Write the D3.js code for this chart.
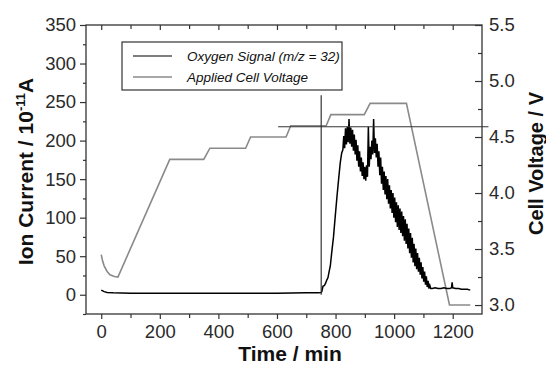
<!DOCTYPE html>
<html><head><meta charset="utf-8">
<script src="https://cdn.jsdelivr.net/npm/d3@7"></script>
<style>
html,body{margin:0;padding:0;background:#fff;}
svg{display:block;font-family:"Liberation Sans",Arial,Helvetica,sans-serif;}
</style></head>
<body><svg id="c" width="546" height="366"></svg>
<script>
// ---- data ----
const xTicks = [0, 200, 400, 600, 800, 1000, 1200];
const leftTicks = [0, 50, 100, 150, 200, 250, 300, 350];
const rightTicks = [3.0, 3.5, 4.0, 4.5, 5.0, 5.5];
const legendLabels = ["Oxygen Signal (m/z = 32)", "Applied Cell Voltage"];

// applied cell voltage (time/min, V)
const voltTime = [0, 5, 10, 20, 30, 45, 57, 234, 350, 371, 493, 510, 631, 647, 768, 784, 898, 918, 1042, 1189, 1260];
const voltValue = [3.45, 3.39, 3.35, 3.30, 3.27, 3.255, 3.25, 4.30, 4.30, 4.40, 4.40, 4.50, 4.50, 4.60, 4.60, 4.70, 4.70, 4.80, 4.80, 3.00, 3.00];

// oxygen signal: baseline + rise
const oxyTimeA = [0, 10, 20, 40, 100, 200, 300, 400, 500, 600, 700, 740, 751, 753, 757, 762, 766, 770, 774, 778, 782, 787, 793, 799, 805, 811, 816, 821];
const oxyValueA = [6, 4, 3, 2.5, 2, 2, 2, 2, 2, 2, 2.5, 2.5, 3, 4, 11, 12, 15, 19, 22, 30, 37, 55, 75, 102, 128, 152, 171, 184];
// noisy part, every 3 min from 825 to 1125
const oxyNoiseStart = 825, oxyNoiseStep = 3;
const oxyNoise = [188, 206, 190, 216, 195, 218, 198, 228, 196, 217, 192, 214, 187, 208, 182, 201, 174, 194, 166, 186,
  160, 178, 154, 172, 150, 166, 148, 168, 153, 218, 166, 192, 176, 200, 182, 228, 184, 203, 178, 196,
  166, 186, 155, 178, 144, 166, 136, 160, 130, 154, 124, 150, 118, 142, 112, 136, 106, 132, 100, 126,
  94, 120, 88, 116, 84, 112, 80, 108, 76, 102, 70, 98, 66, 92, 60, 86, 54, 80, 48, 74,
  42, 66, 37, 60, 33, 54, 30, 48, 26, 42, 21, 36, 17, 30, 13, 24, 10, 18, 8, 12, 8];
const oxyTimeB = [1130, 1140, 1150, 1160, 1170, 1180, 1190, 1196, 1198, 1200, 1210, 1220, 1230, 1240, 1250, 1260];
const oxyValueB = [8, 9, 8, 8, 9, 8, 8, 9, 16, 9, 8, 8, 7, 7, 7, 6];

// marker lines (cursor)
const hLine = {t0: 604, t1: 1322, ion: 218};
const vLine = {t: 751, ion0: 0, ion1: 259};

// ---- build ----
const svg = d3.select("#c");
const L = 86, R = 482, T = 25, B = 314;
const x = d3.scaleLinear().domain([-52, 1300]).range([L, R]);
const yL = d3.scaleLinear().domain([-25, 350]).range([B, T]);
const yR = d3.scaleLinear().domain([2.92, 5.5]).range([B, T]);

const axisCol = "#333";

// frame
svg.append("rect").attr("x", L).attr("y", T).attr("width", R - L).attr("height", B - T)
  .attr("fill", "none").attr("stroke", axisCol).attr("stroke-width", 1.3);

// bottom axis
svg.append("g").attr("transform", `translate(0,${B})`)
  .call(d3.axisBottom(x).tickValues(xTicks).tickSize(5).tickPadding(6).tickFormat(d3.format("d")));
svg.append("g").attr("transform", `translate(0,${B})`)
  .call(d3.axisBottom(x).tickValues(d3.range(100, 1300, 200)).tickSize(4).tickFormat(""));
// top axis inward ticks
svg.append("g").attr("transform", `translate(0,${T})`)
  .call(d3.axisBottom(x).tickValues(xTicks).tickSize(5).tickFormat(""));
svg.append("g").attr("transform", `translate(0,${T})`)
  .call(d3.axisBottom(x).tickValues(d3.range(100, 1300, 200)).tickSize(4).tickFormat(""));
// left axis
svg.append("g").attr("transform", `translate(${L},0)`)
  .call(d3.axisLeft(yL).tickValues(leftTicks).tickSize(6).tickPadding(4).tickFormat(d3.format("d")));
svg.append("g").attr("transform", `translate(${L},0)`)
  .call(d3.axisLeft(yL).tickValues(d3.range(-25, 350, 50)).tickSize(3).tickFormat(""));
// right axis inward ticks, outside labels
svg.append("g").attr("transform", `translate(${R},0)`)
  .call(d3.axisLeft(yR).tickValues(rightTicks).tickSize(7).tickFormat(""));
svg.append("g").attr("transform", `translate(${R},0)`)
  .call(d3.axisLeft(yR).tickValues(d3.range(3.25, 5.5, 0.5)).tickSize(4).tickFormat(""));
svg.append("g").attr("transform", `translate(${R},0)`)
  .call(d3.axisRight(yR).tickValues(rightTicks).tickSize(0).tickPadding(7).tickFormat(d3.format(".1f")));

svg.selectAll(".domain").remove();
svg.selectAll(".tick line").attr("stroke", axisCol).attr("stroke-width", 1.2);
svg.selectAll(".tick text").attr("font-size", 18.5).attr("fill", "#2a2a2a")
  .attr("font-family", "'Liberation Sans',Arial,sans-serif");

// voltage line
const voltData = voltTime.map((t, i) => [t, voltValue[i]]);
svg.append("path").datum(voltData)
  .attr("d", d3.line().x(d => x(d[0])).y(d => yR(d[1])))
  .attr("fill", "none").attr("stroke", "#8a8a8a").attr("stroke-width", 1.6);

// oxygen signal
const oxyData = oxyTimeA.map((t, i) => [t, oxyValueA[i]])
  .concat(oxyNoise.map((v, i) => [oxyNoiseStart + i * oxyNoiseStep, v]))
  .concat(oxyTimeB.map((t, i) => [t, oxyValueB[i]]));
svg.append("path").datum(oxyData)
  .attr("d", d3.line().x(d => x(d[0])).y(d => yL(d[1])))
  .attr("fill", "none").attr("stroke", "#000").attr("stroke-width", 1.5)
  .attr("stroke-linejoin", "miter");

// cursor lines
svg.append("line").attr("x1", x(hLine.t0)).attr("x2", x(hLine.t1))
  .attr("y1", yL(hLine.ion)).attr("y2", yL(hLine.ion))
  .attr("stroke", "#333").attr("stroke-width", 1.2);
svg.append("line").attr("x1", x(vLine.t)).attr("x2", x(vLine.t))
  .attr("y1", yL(vLine.ion0)).attr("y2", yL(vLine.ion1))
  .attr("stroke", "#333").attr("stroke-width", 1.2);

// legend
const lg = svg.append("g");
lg.append("rect").attr("x", 122).attr("y", 42).attr("width", 220).attr("height", 48)
  .attr("fill", "#fff").attr("stroke", "#333").attr("stroke-width", 1.2);
const legCols = ["#555", "#8a8a8a"];
legendLabels.forEach((lab, i) => {
  const yy = 56 + i * 21;
  lg.append("line").attr("x1", 133).attr("x2", 172).attr("y1", yy).attr("y2", yy)
    .attr("stroke", legCols[i]).attr("stroke-width", 1.4);
  lg.append("text").attr("x", 187).attr("y", yy + 5).attr("font-size", 13.5)
    .attr("font-style", "italic").attr("fill", "#111").text(lab);
});

// axis titles
svg.append("text").attr("x", 290).attr("y", 361).attr("text-anchor", "middle")
  .attr("font-size", 21).attr("font-weight", "bold").attr("fill", "#111").text("Time / min");
const lt = svg.append("text").attr("transform", `translate(33,${(T + B) / 2 + 2}) rotate(-90)`)
  .attr("text-anchor", "middle").attr("font-size", 21).attr("font-weight", "bold").attr("fill", "#111");
lt.append("tspan").text("Ion Current / 10");
lt.append("tspan").attr("dy", -8).attr("font-size", 13).text("-11");
lt.append("tspan").attr("dy", 8).text("A");
svg.append("text").attr("transform", `translate(543,${(T + B) / 2 - 6}) rotate(-90)`)
  .attr("text-anchor", "middle").attr("font-size", 20).attr("font-weight", "bold").attr("fill", "#111")
  .text("Cell Voltage / V");
</script></body></html>
